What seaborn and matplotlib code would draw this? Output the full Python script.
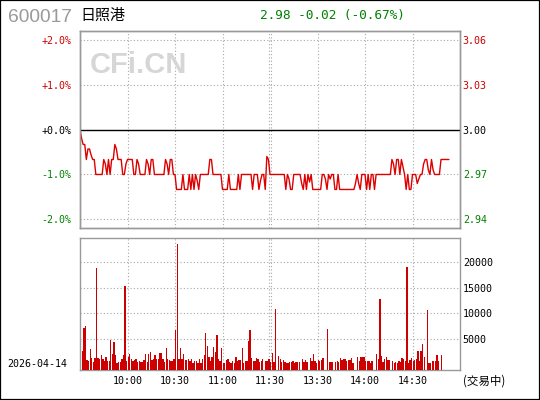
import numpy as np
import matplotlib
matplotlib.use("Agg")
import matplotlib.pyplot as plt
import seaborn as sns
from matplotlib.patches import Rectangle

# ---------------- data ----------------
stock_code = "600017"
stock_name = "日照港"
quote_text = "2.98 -0.02 (-0.67%)"
date_text = "2026-04-14"
status_text = "(交易中)"
watermark = "CFi.CN"
prev_close = 3.00

# minute-by-minute price, minute 0 = 09:30 (120 = 11:30/13:00)
price = [
    3.000, 2.994, 2.990, 2.990, 2.980, 2.987, 2.987, 2.983, 2.980, 2.980,
    2.970, 2.970, 2.970, 2.970, 2.970, 2.980, 2.977, 2.970, 2.980, 2.970,
    2.980, 2.980, 2.990, 2.987, 2.980, 2.980, 2.980, 2.970, 2.970, 2.977,
    2.980, 2.980, 2.980, 2.980, 2.970, 2.970, 2.980, 2.977, 2.970, 2.970,
    2.970, 2.970, 2.980, 2.977, 2.970, 2.980, 2.980, 2.970, 2.970, 2.970,
    2.970, 2.970, 2.970, 2.970, 2.980, 2.977, 2.970, 2.980, 2.980, 2.970,
    2.970, 2.960, 2.960, 2.960, 2.960, 2.970, 2.960, 2.960, 2.960, 2.970,
    2.960, 2.970, 2.960, 2.970, 2.966, 2.960, 2.970, 2.970, 2.970, 2.970,
    2.970, 2.970, 2.980, 2.980, 2.970, 2.970, 2.970, 2.970, 2.970, 2.970,
    2.960, 2.960, 2.960, 2.960, 2.970, 2.960, 2.960, 2.960, 2.960, 2.960,
    2.970, 2.960, 2.970, 2.970, 2.970, 2.970, 2.970, 2.970, 2.970, 2.960,
    2.970, 2.970, 2.970, 2.960, 2.966, 2.970, 2.970, 2.960, 2.982, 2.980,
    2.970, 2.970, 2.970, 2.970, 2.970, 2.970, 2.970, 2.970, 2.970, 2.970,
    2.960, 2.970, 2.967, 2.960, 2.960, 2.970, 2.970, 2.970, 2.970, 2.970,
    2.964, 2.960, 2.970, 2.960, 2.970, 2.965, 2.970, 2.960, 2.960, 2.960,
    2.960, 2.960, 2.960, 2.970, 2.970, 2.967, 2.960, 2.970, 2.967, 2.970,
    2.970, 2.960, 2.960, 2.970, 2.960, 2.960, 2.960, 2.960, 2.960, 2.960,
    2.960, 2.960, 2.960, 2.960, 2.964, 2.970, 2.964, 2.960, 2.970, 2.970,
    2.970, 2.960, 2.970, 2.960, 2.970, 2.970, 2.960, 2.970, 2.970, 2.970,
    2.970, 2.970, 2.970, 2.970, 2.970, 2.970, 2.970, 2.980, 2.977, 2.970,
    2.980, 2.980, 2.970, 2.980, 2.975, 2.970, 2.960, 2.970, 2.960, 2.960,
    2.970, 2.970, 2.970, 2.964, 2.967, 2.970, 2.970, 2.977, 2.980, 2.980,
    2.973, 2.970, 2.980, 2.973, 2.970, 2.970, 2.970, 2.970, 2.980, 2.980,
    2.980, 2.980, 2.980, 2.980,
]

# per-minute volume (hands), starting at minute 1; None = no trade shown
volume = [
    2539, 7067, 7461, 768, 571, 2933, 1161, 374, 1161, 18878,
    1161, 965, 1752, 965, 571, 1358, 571, 571, 4705, 1949,
    4311, 1752, 177, 374, 374, 965, 1752, 15335, 571, 1358,
    1949, 965, 571, 768, 965, 374, 571, 374, 374, 768,
    1949, 374, 1949, 2343, 768, 965, 1752, 965, 965, 2146,
    2146, 965, 374, 3130, 965, 768, 571, 571, 965, 6673,
    23600, 965, 3130, 965, 1949, 768, 768, 965, 571, 965,
    177, 571, 571, 177, 965, 177, 965, 1752, 6083, 3524,
    1358, 571, 1358, 3327, 2343, 5689, 965, 571, 3130, 177,
    177, 768, 965, 374, 177, 571, 177, 1358, 571, 768,
    768, 3130, 177, 571, 571, 4508, 6673, 1161, 571, 571,
    1161, 965, 374, 571, 965, None, 571, 571, 965, 374,
    2146, 374, 10807, None, 1555, 965, 374, 768, 374, 177,
    177, 374, 374, 571, 177, 374, 374, 374, None, 965,
    374, 768, 374, None, 1161, 571, 1949, 571, 177, 768,
    571, 768, 1161, None, None, 6870, 374, 374, 374, None,
    374, 571, 374, 1161, 768, 965, 965, 571, 768, 768,
    1161, 177, None, None, 1358, 571, 1358, 1358, 1358, 571,
    571, 571, 177, 571, None, None, 1949, 965, 12776, 1555,
    374, 965, 1358, 768, 768, None, 571, 177, 374, 177,
    571, 374, 1161, 965, 571, 19075, 177, 768, 1161, 571,
    768, 965, 2539, 571, 2539, 3917, 1358, None, 10610, 177,
    177, 571, 571, 571, 1752, 571, None, 1752,
]

time_ticks = [30, 60, 90, 120, 150, 180, 210]
time_labels = ["10:00", "10:30", "11:00", "11:30", "13:30", "14:00", "14:30"]
pct_ticks = [2.0, 1.0, 0.0, -1.0, -2.0]
vol_ticks = [5000, 10000, 15000, 20000]

# ---------------- style ----------------
sns.set_style("white")
plt.rcParams["font.family"] = ["DejaVu Sans"]
RED = "#cc0000"
LINE_RED = "#dd0000"
GREEN = "#008000"
GRID = "#a8a8a8"
SPINE = "#999999"
MONO = "DejaVu Sans Mono"
CJK = ["Noto Sans CJK SC", "DejaVu Sans"]

W, H = 540, 400
fig = plt.figure(figsize=(W / 100, H / 100), dpi=100)
fig.patch.set_facecolor("white")

def fx(px):
    return px / W

def fy(py):
    return 1 - py / H

ax_p = fig.add_axes([fx(80), fy(228), fx(460) - fx(80), fy(31) - fy(228)])
ax_v = fig.add_axes([fx(80), fy(370), fx(460) - fx(80), fy(238) - fy(370)])

n_minutes = 240
grid_x = [30, 60, 90, 119.4, 120.6, 150, 180, 210]
dot = (0, (1, 2))

# ---------------- price panel ----------------
minutes = np.arange(len(price))
sns.lineplot(x=minutes, y=np.array(price), ax=ax_p, color=LINE_RED,
             linewidth=1.0, estimator=None, zorder=4)

span = prev_close * 0.0219
ax_p.set_xlim(0, n_minutes)
ax_p.set_ylim(prev_close - span, prev_close + span)

pct_prices = [prev_close * (1 + p / 100) for p in pct_ticks]
for p, yv in zip(pct_ticks, pct_prices):
    if p == 0:
        ax_p.axhline(yv, color="black", linewidth=1.0, zorder=3)
    else:
        ax_p.axhline(yv, color=GRID, linewidth=0.8, linestyle=dot, zorder=1)
for gx in grid_x:
    ax_p.axvline(gx, color=GRID, linewidth=0.8, linestyle=dot, zorder=1)

def pcolor(p):
    return RED if p > 0 else ("black" if p == 0 else GREEN)

ax_p.set_yticks(pct_prices)
ax_p.set_yticklabels([f"{p:+.1f}%" for p in pct_ticks])
for lab, p in zip(ax_p.get_yticklabels(), pct_ticks):
    lab.set_color(pcolor(p))
    lab.set_fontfamily(MONO)
    lab.set_fontsize(7.2)
ax_p.tick_params(axis="y", length=0, pad=6)
ax_p.set_xticks([])
ax_p.set_xlabel("")
ax_p.set_ylabel("")

ax_r = ax_p.twinx()
ax_r.set_ylim(ax_p.get_ylim())
ax_r.set_yticks(pct_prices)
ax_r.set_yticklabels([f"{v:.2f}" for v in pct_prices])
for lab, p in zip(ax_r.get_yticklabels(), pct_ticks):
    lab.set_color(pcolor(p))
    lab.set_fontfamily(MONO)
    lab.set_fontsize(7.2)
ax_r.tick_params(axis="y", length=0, pad=2)

for a in (ax_p, ax_r):
    for s in a.spines.values():
        s.set_color(SPINE)
        s.set_linewidth(1.0)

# ---------------- volume panel ----------------
vol = np.array([np.nan if v is None else v for v in volume], dtype=float)
vol_x = np.arange(1, len(vol) + 1)
vol_top = np.nanmax(vol) * 1.05
vol_floor = -1100
ax_v.bar(vol_x, vol - vol_floor, bottom=vol_floor, width=0.85, align="edge",
         color=RED, linewidth=0, antialiased=False, zorder=3)
ax_v.set_xlim(0, n_minutes)
ax_v.set_ylim(vol_floor, vol_top)
for yv in vol_ticks:
    ax_v.axhline(yv, color=GRID, linewidth=0.8, linestyle=dot, zorder=1)
for gx in grid_x:
    ax_v.axvline(gx, color=GRID, linewidth=0.8, linestyle=dot, zorder=1)

ax_v.yaxis.tick_right()
ax_v.set_yticks(vol_ticks)
ax_v.set_yticklabels([str(v) for v in vol_ticks])
ax_v.set_xticks(time_ticks)
ax_v.set_xticklabels(time_labels)
for lab in ax_v.get_yticklabels() + ax_v.get_xticklabels():
    lab.set_fontfamily(MONO)
    lab.set_fontsize(7.2)
    lab.set_color("black")
ax_v.tick_params(axis="y", length=0, pad=2)
ax_v.tick_params(axis="x", length=0, pad=4)
for s in ax_v.spines.values():
    s.set_color(SPINE)
    s.set_linewidth(1.0)

# ---------------- texts ----------------
fig.text(fx(8), fy(18), stock_code, family="Liberation Sans", fontsize=13.8,
         color="#999999", ha="left", va="center")
fig.text(fx(80), fy(16), stock_name, family=CJK, fontsize=10.8,
         color="black", ha="left", va="center")
fig.text(fx(260), fy(16), quote_text, family=MONO, fontsize=9.2,
         color=GREEN, ha="left", va="center")
fig.text(fx(90), fy(65), watermark, family="Liberation Sans", fontsize=21,
         fontweight="bold", color="#d6d6d6", ha="left", va="center")
fig.text(fx(7), fy(364), date_text, family=MONO, fontsize=7.2,
         color="black", ha="left", va="center")
fig.text(fx(463), fy(381), status_text, family=CJK, fontsize=8.3,
         color="black", ha="left", va="center")

fig.patches.append(Rectangle((0, 0), 1, 1, transform=fig.transFigure,
                             fill=False, edgecolor="black", linewidth=1.6))

fig.savefig("out.png", dpi=100)
